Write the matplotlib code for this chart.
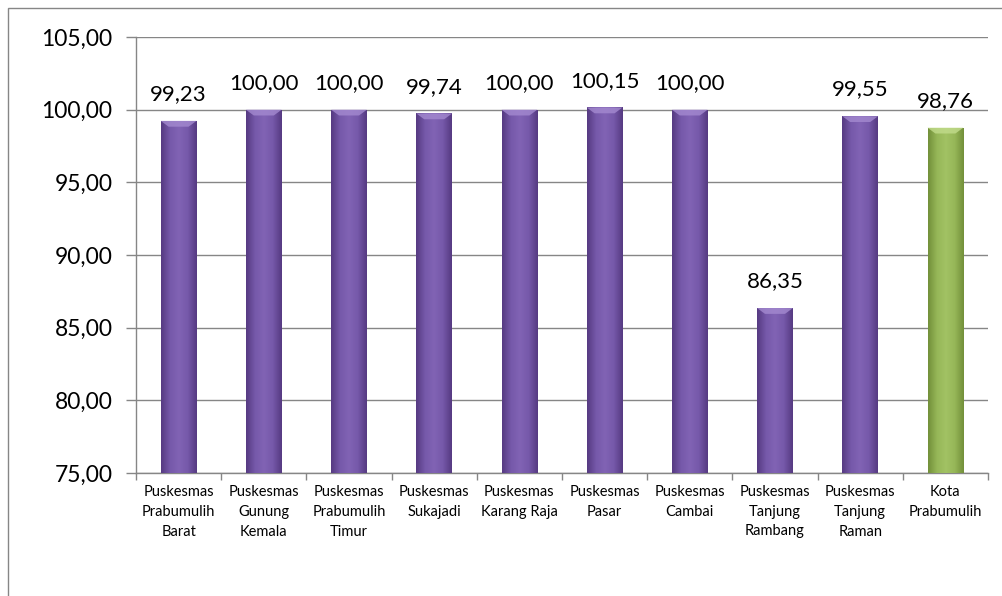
import numpy as np
import matplotlib
matplotlib.use("Agg")
import matplotlib.pyplot as plt
from matplotlib.patches import Rectangle, Polygon
from matplotlib.colors import LinearSegmentedColormap

categories = [
    "Puskesmas\nPrabumulih\nBarat",
    "Puskesmas\nGunung\nKemala",
    "Puskesmas\nPrabumulih\nTimur",
    "Puskesmas\nSukajadi",
    "Puskesmas\nKarang Raja",
    "Puskesmas\nPasar",
    "Puskesmas\nCambai",
    "Puskesmas\nTanjung\nRambang",
    "Puskesmas\nTanjung\nRaman",
    "Kota\nPrabumulih",
]
values = [99.23, 100.00, 100.00, 99.74, 100.00, 100.15, 100.00, 86.35, 99.55, 98.76]
is_total = [False] * 9 + [True]

y_ticks = [75, 80, 85, 90, 95, 100, 105]

plt.rcParams["font.family"] = ["Lato", "DejaVu Sans"]

GRID = "#868686"
purple_cmap = LinearSegmentedColormap.from_list(
    "pur", ["#563a82", "#7659aa", "#8163b4", "#7659aa", "#563a82"])
green_cmap = LinearSegmentedColormap.from_list(
    "grn", ["#73903a", "#96b758", "#a2c264", "#96b758", "#73903a"])
bevel = {False: "#a48ad0", True: "#c2dc8c"}


def fmt(v):
    return f"{v:.2f}".replace(".", ",")


fig = plt.figure(figsize=(10.03, 5.96), dpi=100)
ax = fig.add_axes([136 / 1003, 1 - 473 / 596, 852 / 1003, 436 / 596])

x = np.arange(len(values))
bars = ax.bar(x, values, width=0.42, bottom=0, color="none", zorder=3)

grad = np.linspace(0, 1, 64).reshape(1, -1)
for b, tot, v in zip(bars, is_total, values):
    x0, w, h = b.get_x(), b.get_width(), b.get_height()
    cmap = green_cmap if tot else purple_cmap
    im = ax.imshow(grad, cmap=cmap, aspect="auto", zorder=3,
                   extent=(x0, x0 + w, 75, h), interpolation="bicubic")
    im.set_clip_path(b)
    # light bevel at the top of each bar
    ax.add_patch(Polygon([(x0, h), (x0 + w, h), (x0 + w * 0.78, h - 0.4),
                          (x0 + w * 0.22, h - 0.4)], closed=True,
                         facecolor=bevel[tot], edgecolor="none",
                         alpha=0.8, zorder=4))
    ax.annotate(fmt(v), (x0 + w / 2, v), xytext=(0, 12),
                textcoords="offset points", ha="center", va="bottom",
                fontsize=16, color="#000000", zorder=5)

ax.set_xlim(-0.5, len(values) - 0.5)
ax.set_ylim(75, 105)
ax.set_yticks(y_ticks)
ax.set_yticklabels([fmt(t) for t in y_ticks], fontsize=16.5)
ax.yaxis.grid(True, color=GRID, lw=1, zorder=0)
ax.set_axisbelow(True)
ax.tick_params(axis="y", length=7, color=GRID, width=1, pad=10)

ax.set_xticks(x)
ax.set_xticklabels(categories, fontsize=10.5, linespacing=1.5)
ax.set_xticks(np.arange(-0.5, len(values)), minor=True)
ax.tick_params(axis="x", which="major", length=0, pad=9)
ax.tick_params(axis="x", which="minor", length=5, color=GRID, width=1)

for s in ["top", "right"]:
    ax.spines[s].set_visible(False)
for s in ["left", "bottom"]:
    ax.spines[s].set_color(GRID)
    ax.spines[s].set_linewidth(1)

fig.patches.append(Rectangle((8 / 1003, -0.1), 1.2, 1.1 - 8 / 596,
                             transform=fig.transFigure, fill=False,
                             edgecolor=GRID, lw=1))

fig.savefig("out.png", dpi=100)
